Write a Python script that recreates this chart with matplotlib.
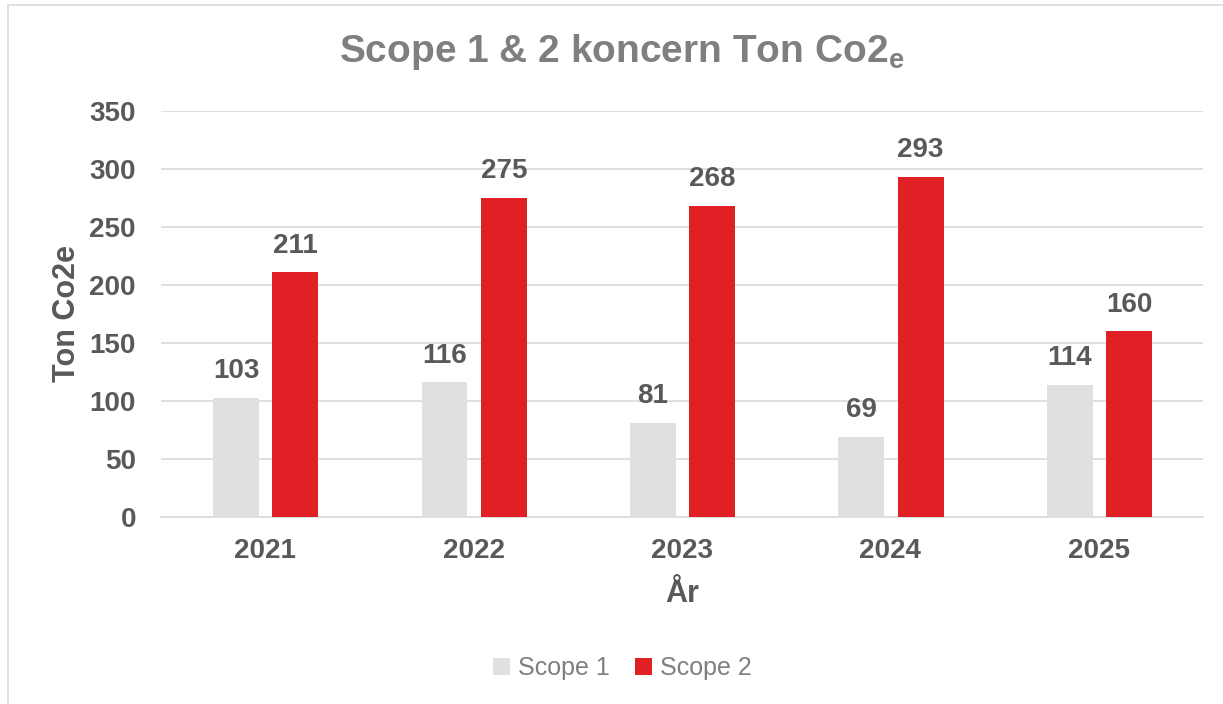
import numpy as np
import matplotlib.pyplot as plt
from matplotlib.patches import Rectangle

years = ["2021", "2022", "2023", "2024", "2025"]
scope1 = [103, 116, 81, 69, 114]
scope2 = [211, 275, 268, 293, 160]
series_names = ["Scope 1", "Scope 2"]

plt.rcParams['font.family'] = ['Liberation Sans', 'DejaVu Sans']

W, H = 1223, 704
fig = plt.figure(figsize=(W / 100, H / 100), dpi=100)
fig.patch.set_facecolor("white")

# chart frame
fig.add_artist(Rectangle((8 / W, -0.01), 1.2, 1 - 5 / H + 0.01, transform=fig.transFigure,
                         fill=False, edgecolor="#d9d9d9", linewidth=1.2))

ax = fig.add_axes([161 / W, 1 - 517 / H, (1203 - 161) / W, (517 - 111) / H])
x = np.arange(len(years))
bw = 0.22
ax.bar(x - 0.14, scope1, bw, color="#e0e0e0", label=series_names[0], zorder=3)
ax.bar(x + 0.145, scope2, bw, color="#e02025", label=series_names[1], zorder=3)

for xi, v in zip(x - 0.14, scope1):
    ax.text(xi, v + 23, str(v), ha="center", va="center", fontsize=20,
            fontweight="bold", color="#595959")
for xi, v in zip(x + 0.145, scope2):
    ax.text(xi, v + 23, str(v), ha="center", va="center", fontsize=20,
            fontweight="bold", color="#595959")

ax.set_xlim(-0.5, len(years) - 0.5)
ax.set_ylim(0, 350)
ax.set_yticks(range(0, 351, 50))
ax.set_xticks(x)
ax.set_xticklabels(years)
ax.yaxis.grid(True, color="#d9d9d9", linewidth=1.2, zorder=0)
ax.set_axisbelow(True)
for s in ax.spines.values():
    s.set_visible(False)
ax.spines["bottom"].set_visible(True)
ax.spines["bottom"].set_color("#d9d9d9")
ax.spines["bottom"].set_linewidth(1.2)
ax.tick_params(length=0, labelsize=20, labelcolor="#595959")
for lab in ax.get_xticklabels() + ax.get_yticklabels():
    lab.set_fontweight("bold")
ax.tick_params(axis="y", pad=18)
ax.tick_params(axis="x", pad=15)

fig.text(622 / W, 1 - 52 / H, r"Scope 1 & 2 koncern Ton Co2$_{\mathregular{e}}$",
         ha="center", va="center", fontsize=28, fontweight="bold", color="#7f7f7f")
fig.text(682 / W, 1 - 594 / H, "År", ha="center", va="center", fontsize=22,
         fontweight="bold", color="#595959")
fig.text(67 / W, 1 - 314 / H, "Ton Co2e", ha="center", va="center", rotation=90,
         fontsize=22, fontweight="bold", color="#595959")

fig.legend(loc="center", bbox_to_anchor=(622 / W, 1 - 668 / H), ncol=2, frameon=False,
           fontsize=18, labelcolor="#7f7f7f", handlelength=0.7, handleheight=0.7,
           handletextpad=0.3, columnspacing=1.0)

fig.savefig("out.png", dpi=100, facecolor="white")
